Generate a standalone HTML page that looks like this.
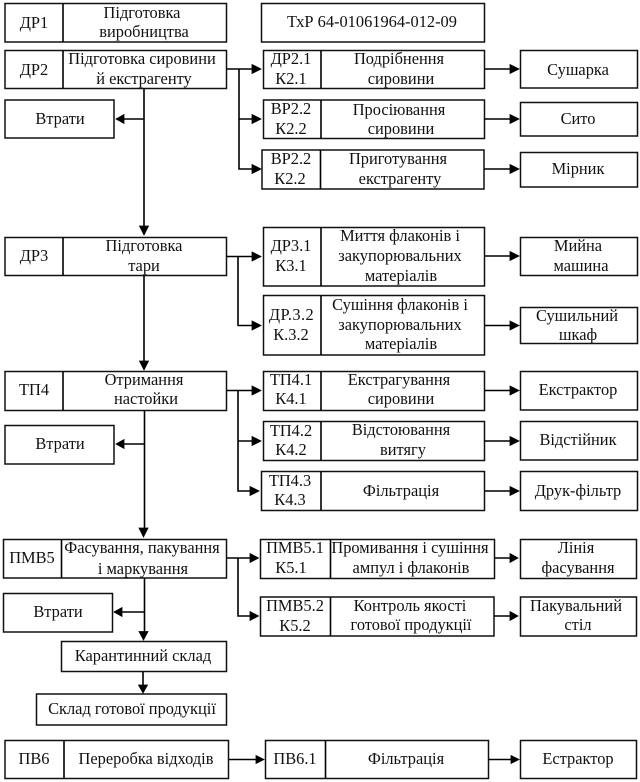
<!DOCTYPE html>
<html><head><meta charset="utf-8"><style>
html,body{margin:0;padding:0;background:#fff}
svg{display:block}
text{font-family:"Liberation Serif",serif;font-size:16.4px;fill:#111;text-anchor:middle}
rect{fill:#fff;stroke:#111;stroke-width:1.5}
path{fill:none;stroke:#000;stroke-width:1.6}
polygon{fill:#000;stroke:#000;stroke-width:.8;stroke-linejoin:miter}
</style></head><body>
<svg xmlns="http://www.w3.org/2000/svg" width="640" height="782" viewBox="0 0 640 782">
<rect x="5" y="3.5" width="221.5" height="38.5"/><path d="M63 3.5V42"/>
<rect x="261.5" y="3.5" width="223" height="38.5"/>
<rect x="5" y="50.5" width="221.5" height="38"/><path d="M63 50.5V88.5"/>
<rect x="263.5" y="50.5" width="221" height="38"/><path d="M321 50.5V88.5"/>
<rect x="263.5" y="100" width="221" height="38.5"/><path d="M321 100V138.5"/>
<rect x="262" y="150" width="222" height="39"/><path d="M320.5 150V189"/>
<rect x="520.5" y="50.5" width="117" height="37.5"/>
<rect x="520.5" y="102.5" width="117" height="33.5"/>
<rect x="520.5" y="152.5" width="117" height="34.5"/>
<rect x="5" y="100" width="109" height="38"/>
<rect x="5" y="237.5" width="221.5" height="38"/><path d="M63 237.5V275.5"/>
<rect x="263.5" y="227.5" width="221" height="58.5"/><path d="M321 227.5V286"/>
<rect x="263.5" y="295.5" width="221" height="59.5"/><path d="M321 295.5V355"/>
<rect x="520.5" y="237.5" width="117" height="38"/>
<rect x="520.5" y="307.5" width="117" height="36"/>
<rect x="5" y="371.5" width="221.5" height="39"/><path d="M63 371.5V410.5"/>
<rect x="263.5" y="371.5" width="221" height="39"/><path d="M321 371.5V410.5"/>
<rect x="263.5" y="421.5" width="221" height="39"/><path d="M321 421.5V460.5"/>
<rect x="261.5" y="471.5" width="223" height="39"/><path d="M321 471.5V510.5"/>
<rect x="520.5" y="371.5" width="117" height="38.5"/>
<rect x="520.5" y="421.5" width="117" height="38.5"/>
<rect x="520.5" y="471.5" width="117" height="39"/>
<rect x="5" y="425.5" width="109" height="38.5"/>
<rect x="3.5" y="539.5" width="223" height="38.5"/><path d="M61.5 539.5V578"/>
<rect x="260.5" y="539.5" width="234" height="39"/><path d="M330.5 539.5V578.5"/>
<rect x="260.5" y="597" width="233.5" height="39"/><path d="M330.5 597V636"/>
<rect x="520.5" y="539.5" width="116" height="39"/>
<rect x="520.5" y="597" width="116" height="39"/>
<rect x="3.5" y="593.5" width="109" height="38.5"/>
<rect x="61.5" y="641.5" width="165" height="30"/>
<rect x="36.5" y="694" width="190" height="31"/>
<rect x="5" y="740.5" width="223.5" height="38"/><path d="M64 740.5V778.5"/>
<rect x="265.5" y="740.5" width="223" height="38"/><path d="M325.5 740.5V778.5"/>
<rect x="520.5" y="740.5" width="116" height="38"/>

<path d="M144 88.5V228M144 119H122M226.5 69H254M239 69V169H254M239 119H254"/>
<polygon points="144,235 139.500,226 148.500,226"/>
<polygon points="116,119 124,114.500 124,123.500"/>
<polygon points="261,69 252,64.500 252,73.500"/><polygon points="261,119 252,114.500 252,123.500"/><polygon points="261,169 252,164.500 252,173.500"/>
<path d="M484 69H512M484 119H512M484 169H512"/>
<polygon points="519,69 510,64.500 510,73.500"/><polygon points="519,119 510,114.500 510,123.500"/><polygon points="519,169 510,164.500 510,173.500"/>

<path d="M144 275.500V363M226.500 256.500H254M238 256.500V325.500H254"/>
<polygon points="144,370 139.500,361 148.500,361"/>
<polygon points="261,256.500 252,252 252,261"/><polygon points="261,325.500 252,321 252,330"/>
<path d="M484 256H512M484 325.500H512"/>
<polygon points="519,256 510,251.500 510,260.500"/><polygon points="519,325.500 510,321 510,330"/>

<path d="M144.500 410.500V530M144 444H122M226.500 390.500H254M238 390.500V491H252M238 441H254"/>
<polygon points="143.500,537 139,528 148,528"/>
<polygon points="116,444 124,439.500 124,448.500"/>
<polygon points="261,390.500 252,386 252,395"/><polygon points="261,441 252,436.500 252,445.500"/><polygon points="259,491 250,486.500 250,495.500"/>
<path d="M484 390.500H512M484 441H512M484 491H512"/>
<polygon points="519,390.500 510,386 510,395"/><polygon points="519,441 510,436.500 510,445.500"/><polygon points="519,491 510,486.500 510,495.500"/>

<path d="M144.500 578V634M144 612H120M226.500 558H252M238 558V616H252"/>
<polygon points="143.500,640 139,631.500 148,631.500"/>
<polygon points="114,612 122,607.500 122,616.500"/>
<polygon points="258.500,558 250,553.500 250,562.500"/><polygon points="258.500,616 250,611.500 250,620.500"/>
<path d="M494 558H511M493.500 616H511"/>
<polygon points="518,558 510,553.500 510,562.500"/><polygon points="518,616 510,611.500 510,620.500"/>

<path d="M143 671.500V686"/><polygon points="143,693 138.500,685 147.500,685"/>
<path d="M229 759.500H257M488.500 759.500H512"/>
<polygon points="264,759.500 256,755.500 256,763.500"/><polygon points="519,759.500 511,755.500 511,763.500"/>

<text x="34" y="28">ДР1</text>
<text x="142" y="18">Підготовка</text><text x="144" y="37">виробництва</text>
<text x="372" y="27">ТхР 64-01061964-012-09</text>
<text x="34" y="75">ДР2</text>
<text x="142" y="64">Підготовка сировини</text><text x="144" y="84">й екстрагенту</text>
<text x="291" y="64">ДР2.1</text><text x="291" y="84">К2.1</text>
<text x="399" y="64">Подрібнення</text><text x="401" y="84">сировини</text>
<text x="291" y="114">ВР2.2</text><text x="291" y="134">К2.2</text>
<text x="399" y="115">Просіювання</text><text x="401" y="134">сировини</text>
<text x="291" y="164">ВР2.2</text><text x="290" y="184">К2.2</text>
<text x="398" y="164">Приготування</text><text x="400" y="184">екстрагенту</text>
<text x="578" y="75">Сушарка</text>
<text x="578" y="124">Сито</text>
<text x="578" y="174">Мірник</text>
<text x="60" y="124">Втрати</text>
<text x="34" y="261">ДР3</text>
<text x="144" y="251">Підготовка</text><text x="144" y="271">тари</text>
<text x="291" y="251">ДР3.1</text><text x="291" y="271">К3.1</text>
<text x="400" y="241">Миття флаконів і</text><text x="400" y="261">закупорювальних</text><text x="401" y="281">матеріалів</text>
<text x="291.500" y="320" letter-spacing=".4">ДР.3.2</text><text x="291" y="340">К.3.2</text>
<text x="400" y="310">Сушіння флаконів і</text><text x="400" y="330">закупорювальних</text><text x="401" y="349">матеріалів</text>
<text x="578" y="251">Мийна</text><text x="581" y="271">машина</text>
<text x="577" y="321">Сушильний</text><text x="578" y="340">шкаф</text>
<text x="34" y="395">ТП4</text>
<text x="144" y="385">Отримання</text><text x="146" y="404">настойки</text>
<text x="291" y="385">ТП4.1</text><text x="291" y="404">К4.1</text>
<text x="399" y="385">Екстрагування</text><text x="401" y="404">сировини</text>
<text x="578" y="395">Екстрактор</text>
<text x="291" y="436">ТП4.2</text><text x="291" y="455">К4.2</text>
<text x="401" y="435">Відстоювання</text><text x="403" y="455">витягу</text>
<text x="578" y="445">Відстійник</text>
<text x="290" y="486">ТП4.3</text><text x="290" y="505">К4.3</text>
<text x="401" y="496">Фільтрація</text>
<text x="578" y="496">Друк-фільтр</text>
<text x="60" y="449">Втрати</text>
<text x="32" y="563">ПМВ5</text>
<text x="142" y="553">Фасування, пакування</text><text x="143" y="574">і маркування</text>
<text x="295" y="553">ПМВ5.1</text><text x="291" y="573">К5.1</text>
<text x="410" y="553">Промивання і сушіння</text><text x="411" y="573">ампул і флаконів</text>
<text x="576" y="553">Лінія</text><text x="578" y="573">фасування</text>
<text x="58" y="617">Втрати</text>
<text x="295" y="611">ПМВ5.2</text><text x="295" y="631">К5.2</text>
<text x="410" y="611">Контроль якості</text><text x="411" y="630">готової продукції</text>
<text x="576" y="611">Пакувальний</text><text x="578" y="630">стіл</text>
<text x="143" y="661">Карантинний склад</text>
<text x="132" y="714">Склад готової продукції</text>
<text x="34" y="764">ПВ6</text>
<text x="146" y="764">Переробка відходів</text>
<text x="295" y="764">ПВ6.1</text>
<text x="406" y="764">Фільтрація</text>
<text x="578" y="764">Естрактор</text>
</svg>
</body></html>
